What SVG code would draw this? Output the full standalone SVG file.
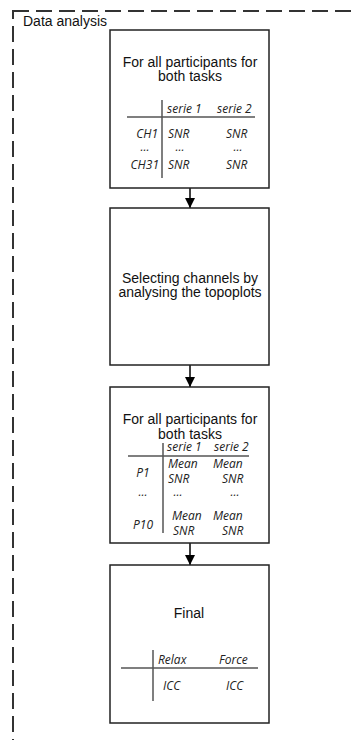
<svg xmlns="http://www.w3.org/2000/svg" width="355" height="740" viewBox="0 0 355 740">
<defs>
<marker id="ah" viewBox="0 0 10 12" refX="10" refY="6" markerWidth="10" markerHeight="12" markerUnits="userSpaceOnUse" orient="auto">
<path d="M0,1 L10,6 L0,11 Z" fill="#000"/>
</marker>
<style>
.box{fill:#fff;stroke:#222;stroke-width:1.5}
.t{font-family:"Liberation Sans",Arial,sans-serif;font-size:14px;fill:#111;text-anchor:middle}
.i{font-family:"Open Sans","Noto Sans",sans-serif;font-style:italic;font-size:12px;fill:#222}
.tl{stroke:#555;stroke-width:1.5}
.c{stroke:#000;stroke-width:1.5;fill:none}
</style>
</defs>
<rect width="355" height="740" fill="#fff"/>
<g id="container">
<rect x="13" y="11" width="400" height="800" fill="none" stroke="#333" stroke-width="2" stroke-dasharray="16 7"/>
<text x="23" y="26" font-family="Liberation Sans,Arial,sans-serif" font-size="14" fill="#111">Data analysis</text>
</g>
<g id="connectors">
<line class="c" x1="190" y1="188" x2="190" y2="208" marker-end="url(#ah)"/>
<line class="c" x1="190" y1="365" x2="190" y2="387" marker-end="url(#ah)"/>
<line class="c" x1="190" y1="543" x2="190" y2="565" marker-end="url(#ah)"/>
</g>
<g id="node1">
<rect class="box" x="110" y="30" width="159" height="158"/>
<text class="t" x="190" y="67">For all participants for</text>
<text class="t" x="190" y="81">both tasks</text>
<line class="tl" x1="127" y1="117" x2="255" y2="117"/>
<line class="tl" x1="162" y1="100" x2="162" y2="178"/>
<text class="i" x="167" y="113">serie 1</text>
<text class="i" x="217" y="113">serie 2</text>
<text class="i" x="158" y="138" text-anchor="end">CH1</text>
<text class="i" x="168" y="138">SNR</text>
<text class="i" x="226" y="138">SNR</text>
<text class="i" x="145" y="151" text-anchor="middle" font-size="9">...</text>
<text class="i" x="180" y="151" text-anchor="middle" font-size="9">...</text>
<text class="i" x="238" y="151" text-anchor="middle" font-size="9">...</text>
<text class="i" x="159" y="169" text-anchor="end">CH31</text>
<text class="i" x="168" y="169">SNR</text>
<text class="i" x="226" y="169">SNR</text>
</g>
<g id="node2">
<rect class="box" x="110" y="208" width="159" height="157"/>
<text class="t" x="190" y="283">Selecting channels by</text>
<text class="t" x="190" y="297">analysing the topoplots</text>
</g>
<g id="node3">
<rect class="box" x="110" y="387" width="159" height="156"/>
<text class="t" x="190" y="424">For all participants for</text>
<text class="t" x="190" y="439">both tasks</text>
<line class="tl" x1="128" y1="456" x2="249" y2="456"/>
<line class="tl" x1="163" y1="443" x2="163" y2="533"/>
<text class="i" x="167" y="451">serie 1</text>
<text class="i" x="214" y="451">serie 2</text>
<text class="i" x="143" y="477" text-anchor="middle">P1</text>
<text class="i" x="168" y="468">Mean</text>
<text class="i" x="213" y="468">Mean</text>
<text class="i" x="168" y="483">SNR</text>
<text class="i" x="222" y="483">SNR</text>
<text class="i" x="143" y="496" text-anchor="middle" font-size="9">...</text>
<text class="i" x="178" y="496" text-anchor="middle" font-size="9">...</text>
<text class="i" x="235" y="496" text-anchor="middle" font-size="9">...</text>
<text class="i" x="143" y="529" text-anchor="middle">P10</text>
<text class="i" x="172" y="520">Mean</text>
<text class="i" x="213" y="520">Mean</text>
<text class="i" x="173" y="535">SNR</text>
<text class="i" x="222" y="535">SNR</text>
</g>
<g id="node4">
<rect class="box" x="110" y="565" width="159" height="158"/>
<text class="t" x="189" y="618">Final</text>
<line class="tl" x1="121" y1="668" x2="258" y2="668"/>
<line class="tl" x1="153" y1="650" x2="153" y2="701"/>
<text class="i" x="158" y="664" font-size="13">Relax</text>
<text class="i" x="219" y="664" font-size="13">Force</text>
<text class="i" x="163" y="690" font-size="13">ICC</text>
<text class="i" x="226" y="690" font-size="13">ICC</text>
</g>
</svg>
